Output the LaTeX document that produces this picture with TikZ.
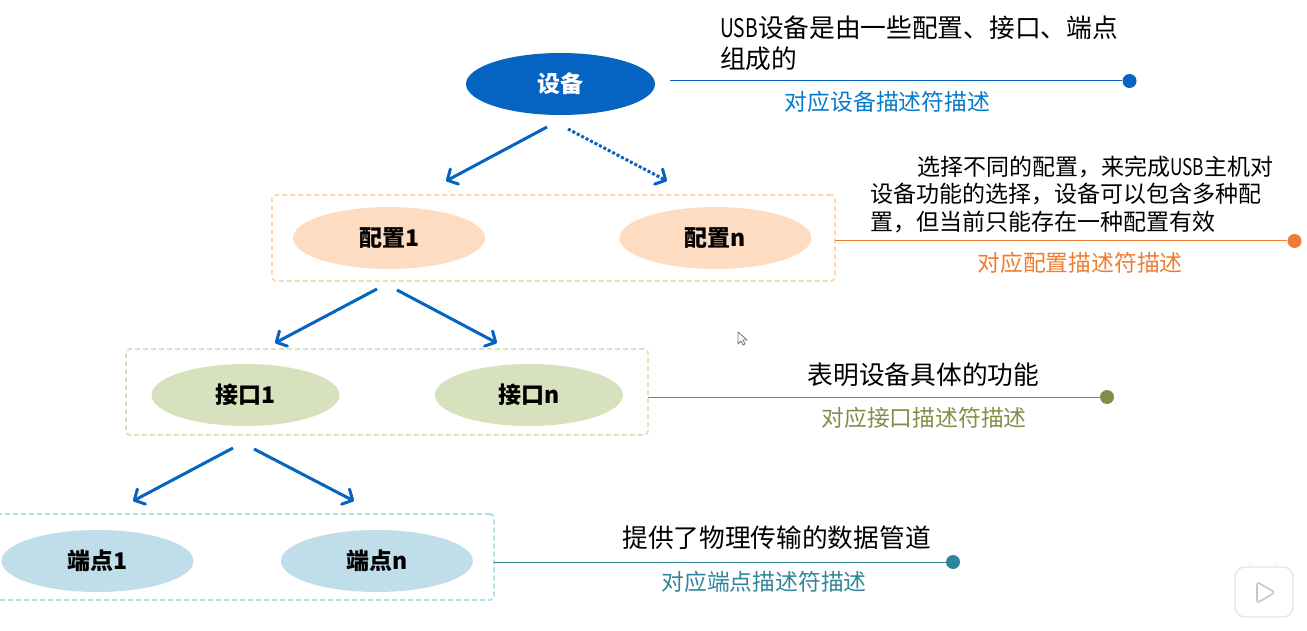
\documentclass[tikz,border=0pt]{standalone}
\usepackage{xcolor}
\usepackage{graphicx}
\usepackage{fontspec}
\setmainfont{Noto Sans CJK SC}
\usetikzlibrary{arrows.meta,positioning,shapes.geometric}
\definecolor{devblue}{HTML}{0563C1}
\definecolor{cfgline}{HTML}{ED7D31}
\definecolor{cfgfill}{HTML}{FDDCC2}
\definecolor{cfgedge}{HTML}{F9D9B8}
\definecolor{ifline}{HTML}{7F9046}
\definecolor{iffill}{HTML}{D8E1BD}
\definecolor{ifedge}{HTML}{DAE3BF}
\definecolor{epline}{HTML}{31859B}
\definecolor{epfill}{HTML}{BFDEE9}
\definecolor{epedge}{HTML}{B5DCE9}
\newcommand{\usbword}{\scalebox{0.75}[1]{USB}}
\begin{document}
\begin{tikzpicture}[
    x=1pt, y=-1pt,
    oval/.style={ellipse, minimum width=192pt, minimum height=62pt, inner sep=0pt, font=\fontsize{23}{26}\selectfont\bfseries},
    group/.style={draw, line width=1.8pt, dash pattern=on 5pt off 3pt, rounded corners=4pt, inner sep=0pt},
    flow/.style={-{Straight Barb[length=8pt,width=17pt,round]}, draw=devblue, line width=3pt},
    lead/.style={line width=1pt},
    dot/.style={circle, minimum size=14pt, inner sep=0pt},
    note/.style={font=\fontsize{25.7}{28}\selectfont, inner sep=0pt, align=left},
    hint/.style={font=\fontsize{22.8}{26}\selectfont, inner sep=0pt}
  ]
    \useasboundingbox (0,0) rectangle (1307,631);
    % ovals
    \node[oval, fill=devblue, text=white, minimum width=189pt] (device) at (560.5,84) {设备};
    \node[oval, fill=cfgfill] (cfg1) at (389,238) {配置1};
    \node[oval, fill=cfgfill, right=134pt of cfg1] (cfgn) {配置n};
    \node[oval, fill=iffill, minimum width=188pt] (if1) at (245.5,395) {接口1};
    \node[oval, fill=iffill, minimum width=188pt, right=95pt of if1] (ifn) {接口n};
    \node[oval, fill=epfill] (ep1) at (97.5,561) {端点1};
    \node[oval, fill=epfill, right=87pt of ep1] (epn) {端点n};
    % dashed groups
    \node[group, draw=cfgedge, minimum width=563pt, minimum height=86pt] (cfgbox) at (553.5,238) {};
    \node[group, draw=ifedge, minimum width=522pt, minimum height=86pt] (ifbox) at (387,392) {};
    \node[group, draw=epedge, minimum width=500pt, minimum height=86pt] (epbox) at (244,557) {};
    % arrows
    \coordinate (a1) at (547,127);
    \coordinate (a2) at (446,181);
    \coordinate (b1) at (568,129);
    \coordinate (b2) at (667,181);
    \coordinate (c1) at (377,289);
    \coordinate (c2) at (275,343);
    \coordinate (d1) at (397,290);
    \coordinate (d2) at (497,343);
    \coordinate (e1) at (233,448);
    \coordinate (e2) at (133,501);
    \coordinate (f1) at (254,449);
    \coordinate (f2) at (354,501);
    \draw[flow] (a1) -- (a2);
    \draw[flow, dash pattern=on 3pt off 2pt] (b1) -- (b2);
    \draw[flow] (c1) -- (c2);
    \draw[flow] (d1) -- (d2);
    \draw[flow] (e1) -- (e2);
    \draw[flow] (f1) -- (f2);
    % leader lines
    \coordinate (devstart) at (670,81);
    \coordinate (cfgstart) at (835,241);
    \coordinate (ifstart) at (648,397);
    \coordinate (epstart) at (494,562);
    \node[dot, fill=devblue] (devdot) at (1129.5,81) {};
    \node[dot, fill=cfgline] (cfgdot) at (1294.5,241) {};
    \node[dot, fill=ifline] (ifdot) at (1107,397) {};
    \node[dot, fill=epline] (epdot) at (953,562) {};
    \draw[lead, draw=devblue] (devstart) -- (devdot);
    \draw[lead, draw=cfgline] (cfgstart) -- (cfgdot);
    \draw[lead, draw=ifline] (ifstart) -- (ifdot);
    \draw[lead, draw=epline] (epstart) -- (epdot);
    % notes
    \node[note, anchor=west] (devnote) at (720,43.5) {\usbword 设备是由一些配置、接口、端点\\[3pt]组成的};
    \node[note, anchor=west, font=\fontsize{23}{27.5}\selectfont] (cfgnote) at (870,194) {\hspace*{47pt}选择不同的配置，来完成\usbword 主机对\\设备功能的选择，设备可以包含多种配\\置，但当前只能存在一种配置有效};
    \node[note] (ifnote) at (923.5,375) {表明设备具体的功能};
    \node[note] (epnote) at (776.5,538) {提供了物理传输的数据管道};
    \node[hint, text=devblue!85!cyan] (devhint) at (887.5,102) {对应设备描述符描述};
    \node[hint, text=cfgline] (cfghint) at (1080,263) {对应配置描述符描述};
    \node[hint, text=ifline] (ifhint) at (924,418) {对应接口描述符描述};
    \node[hint, text=epline] (ephint) at (764,582) {对应端点描述符描述};
    % pointer and player badge
    \draw[black!55, fill=white, line width=0.8pt, line join=round] (738,332) -- (738,344) -- (741,341) -- (743,345) -- (745,344) -- (743,340) -- (747,340) -- cycle;
    \draw[black!8, line width=2.5pt, line cap=round] (1252,567) -- (1249,562) (1270,567) -- (1277,562);
    \draw[white, line width=1.5pt, line cap=round] (1252,567) -- (1249,562) (1270,567) -- (1277,562);
    \draw[draw=black!10, fill=white, line width=1.2pt, rounded corners=10pt] (1235,567) rectangle (1293,617);
    \draw[draw=black!22, fill=white, line width=1.6pt, rounded corners=2.5pt, line join=round] (1257,582) -- (1275,592.5) -- (1257,603) -- cycle;
  \end{tikzpicture}
\end{document}
